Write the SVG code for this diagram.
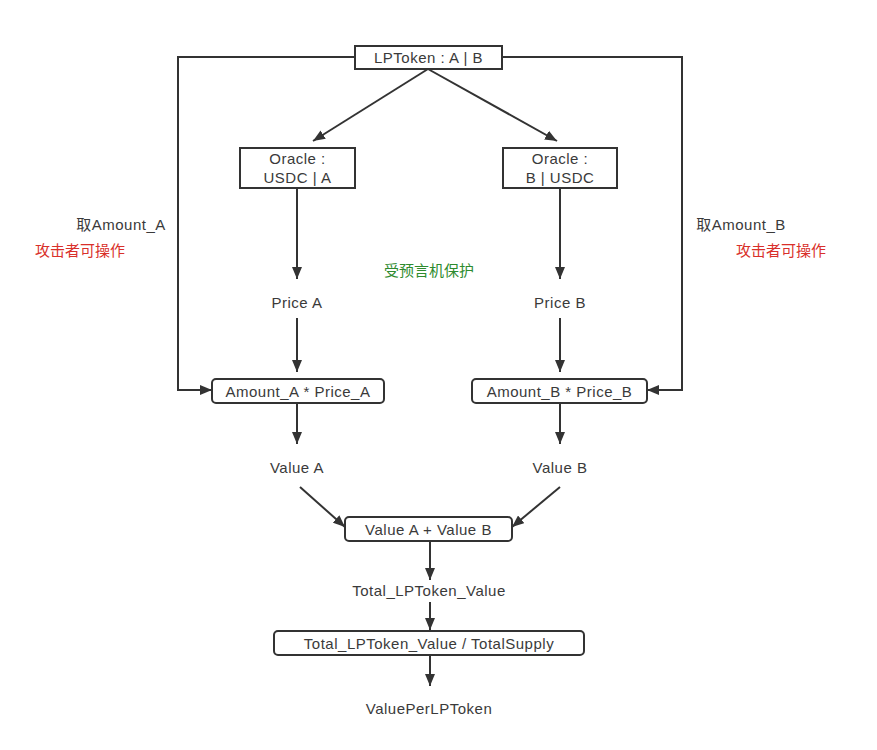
<svg xmlns="http://www.w3.org/2000/svg" width="877" height="750" viewBox="0 0 877 750">
  <defs>
    <marker id="arrow" viewBox="0 0 12 10" refX="12" refY="5" markerWidth="12" markerHeight="10" markerUnits="userSpaceOnUse" orient="auto">
      <path d="M0,0 L12,5 L0,10 z" fill="#333"/>
    </marker>
  </defs>
  <style>
    .box { fill: #fff; stroke: #333; stroke-width: 2; }
    .edge { fill: none; stroke: #333; stroke-width: 2; marker-end: url(#arrow); }
    text { font-family: "Liberation Sans", "Noto Sans CJK SC", sans-serif; font-size: 15px; letter-spacing: 0.5px; fill: #3a3a3a; text-anchor: middle; }
    .cjk { letter-spacing: 0; }
    .red { fill: #d9302a; }
    .green { fill: #2e8b2e; }
  </style>
  <rect width="877" height="750" fill="#fff"/>

  <g id="connectors">
    <path class="edge" d="M355,57 H178 V390 H212"/>
    <path class="edge" d="M502,57 H682 V390 H647"/>
    <path class="edge" d="M428,69 L313,141"/>
    <path class="edge" d="M428,69 L557,141"/>
    <path class="edge" d="M297,188 V279"/>
    <path class="edge" d="M560,188 V279"/>
    <path class="edge" d="M297,318 V372"/>
    <path class="edge" d="M560,318 V372"/>
    <path class="edge" d="M297,403 V444"/>
    <path class="edge" d="M560,403 V444"/>
    <path class="edge" d="M300,487 L345,527"/>
    <path class="edge" d="M560,487 L512,527"/>
    <path class="edge" d="M430,541 V580"/>
    <path class="edge" d="M430,602 V630"/>
    <path class="edge" d="M430,655 V686"/>
  </g>

  <g id="lptoken">
    <rect class="box" x="355" y="46" width="147" height="23"/>
    <text x="428.5" y="63">LPToken : A | B</text>
  </g>
  <g id="oracle-a">
    <rect class="box" x="240" y="148" width="115" height="40"/>
    <text x="297.5" y="164">Oracle :</text>
    <text x="297.5" y="183">USDC | A</text>
  </g>
  <g id="oracle-b">
    <rect class="box" x="503" y="148" width="114" height="40"/>
    <text x="560" y="164">Oracle :</text>
    <text x="560" y="183">B | USDC</text>
  </g>
  <g id="price-a"><text x="297" y="308">Price A</text></g>
  <g id="price-b"><text x="560" y="308">Price B</text></g>
  <g id="amount-a">
    <rect class="box" x="212" y="379" width="172" height="24" rx="4"/>
    <text x="298" y="397">Amount_A * Price_A</text>
  </g>
  <g id="amount-b">
    <rect class="box" x="472" y="379" width="175" height="24" rx="4"/>
    <text x="559.5" y="397">Amount_B * Price_B</text>
  </g>
  <g id="value-a"><text x="297" y="473">Value A</text></g>
  <g id="value-b"><text x="560" y="473">Value B</text></g>
  <g id="sum">
    <rect class="box" x="345" y="517" width="167" height="24" rx="4"/>
    <text x="428.5" y="535">Value A + Value B</text>
  </g>
  <g id="total"><text x="429" y="596">Total_LPToken_Value</text></g>
  <g id="divide">
    <rect class="box" x="274" y="631" width="310" height="24" rx="4"/>
    <text x="429" y="649">Total_LPToken_Value / TotalSupply</text>
  </g>
  <g id="per-token"><text x="429" y="714">ValuePerLPToken</text></g>

  <g id="labels">
    <text x="121" y="230">取Amount_A</text>
    <text class="red cjk" x="80" y="256">攻击者可操作</text>
    <text x="741" y="230">取Amount_B</text>
    <text class="red cjk" x="781" y="256">攻击者可操作</text>
    <text class="green cjk" x="429" y="276">受预言机保护</text>
  </g>
</svg>
